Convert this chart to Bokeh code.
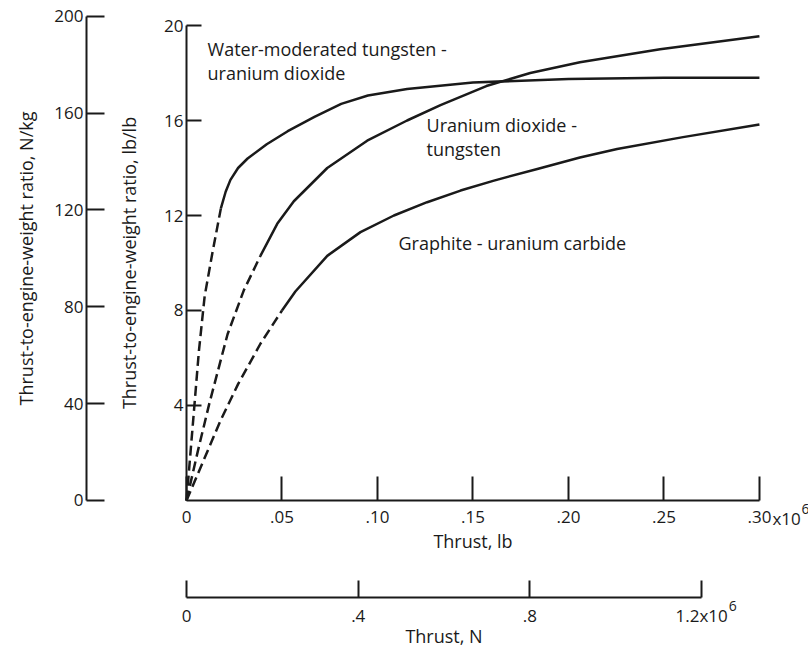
from bokeh.plotting import figure
from bokeh.models import Range1d, LinearAxis, FixedTicker, Grid
from bokeh.core.properties import value
from bokeh.embed import file_html
from bokeh.resources import INLINE

# ---------------- data (thrust in 10^6 lb, ratio in lb/lb) ----------------
# Water-moderated tungsten - uranium dioxide
wm_dash_thrust = [0.0, 0.003, 0.0065, 0.0095, 0.0135, 0.018]
wm_dash_ratio = [0.0, 2.9, 6.3, 8.6, 10.4, 12.3]
wm_thrust = [0.018, 0.0205, 0.023, 0.027, 0.032, 0.042, 0.053, 0.067, 0.081, 0.095, 0.1155, 0.15, 0.20, 0.25, 0.30]
wm_ratio = [12.3, 13.0, 13.5, 14.0, 14.4, 15.0, 15.55, 16.15, 16.7, 17.05, 17.33, 17.6, 17.75, 17.8, 17.8]

# Uranium dioxide - tungsten
uw_dash_thrust = [0.0, 0.006, 0.012, 0.0215, 0.030, 0.0387]
uw_dash_ratio = [0.0, 2.1, 4.1, 7.0, 8.85, 10.3]
uw_thrust = [0.0387, 0.0475, 0.0562, 0.0737, 0.0946, 0.1155, 0.133, 0.157, 0.18, 0.206, 0.248, 0.30]
uw_ratio = [10.3, 11.65, 12.6, 14.0, 15.15, 16.0, 16.65, 17.45, 18.0, 18.45, 19.0, 19.55]

# Graphite - uranium carbide
gc_dash_thrust = [0.0, 0.009, 0.018, 0.027, 0.0387, 0.050]
gc_dash_ratio = [0.0, 1.7, 3.4, 4.9, 6.6, 8.0]
gc_thrust = [0.050, 0.057, 0.0737, 0.0911, 0.1086, 0.126, 0.1435, 0.161, 0.1837, 0.206, 0.2255, 0.26, 0.30]
gc_ratio = [8.0, 8.8, 10.3, 11.3, 12.0, 12.56, 13.05, 13.47, 13.96, 14.44, 14.8, 15.3, 15.83]

# curve annotations
label_texts = ["Water-moderated tungsten -", "uranium dioxide",
               "Uranium dioxide -", "tungsten",
               "Graphite - uranium carbide"]
label_thrust = [0.011, 0.011, 0.1257, 0.1257, 0.111]
label_ratio = [19.03, 18.02, 15.79, 14.82, 10.86]

# axis ticks
lb_ratio_ticks = [4, 8, 12, 16, 20]
nkg_ticks = [0, 40, 80, 120, 160, 200]
lb_thrust_ticks = [0.0, 0.05, 0.10, 0.15, 0.20, 0.25, 0.30]
lb_thrust_labels = ["0", ".05", ".10", ".15", ".20", ".25", ".30"]
n_thrust_ticks = [0.0, 0.4, 0.8, 1.2]
n_thrust_labels = ["0", ".4", ".8", "1.2x10"]

G0 = 9.80665      # (N/kg) per (lb/lb)
LBF_N = 4.44822   # N per lb

# ---------------- figure ----------------
X_LO, X_HI = -0.0974, 0.3257
Y_LO, Y_HI = -6.232, 21.053
INK = "#1a1a1a"
FONT = "Open Sans"

p = figure(width=808, height=648,
           x_range=Range1d(X_LO, X_HI), y_range=Range1d(Y_LO, Y_HI),
           x_axis_location=None, y_axis_location=None,
           toolbar_location=None, output_backend="svg",
           min_border=0, outline_line_color=None)
p.extra_y_ranges = {"nkg": Range1d(Y_LO * G0, Y_HI * G0)}
p.extra_x_ranges = {"newton": Range1d(X_LO * LBF_N, X_HI * LBF_N)}
p.background_fill_color = "white"
p.border_fill_color = "white"
for g in p.select(type=Grid):
    g.visible = False


def style_axis(ax, tick_in, label_standoff, axis_label_standoff):
    ax.axis_line_color = INK
    ax.axis_line_width = 2
    ax.major_tick_line_color = INK
    ax.major_tick_line_width = 2
    ax.major_tick_in = tick_in
    ax.major_tick_out = 0
    ax.minor_tick_line_color = None
    ax.major_label_text_font = FONT
    ax.major_label_text_font_size = "17px"
    ax.major_label_text_color = INK
    ax.major_label_standoff = label_standoff
    ax.axis_label_text_font = FONT
    ax.axis_label_text_font_size = "18px"
    ax.axis_label_text_font_style = "normal"
    ax.axis_label_text_color = INK
    ax.axis_label_standoff = axis_label_standoff


# left axis, lb/lb
ax_ratio = LinearAxis(fixed_location=0.0, bounds=(0, 20),
                      ticker=FixedTicker(ticks=lb_ratio_ticks),
                      axis_label="Thrust-to-engine-weight ratio, lb/lb")
style_axis(ax_ratio, 15, 3, 20)
p.add_layout(ax_ratio, "left")

# outer left axis, N/kg
ax_nkg = LinearAxis(y_range_name="nkg", fixed_location=-0.0524, bounds=(0, 200),
                    ticker=FixedTicker(ticks=nkg_ticks),
                    axis_label="Thrust-to-engine-weight ratio, N/kg")
style_axis(ax_nkg, 18, 3, 13)
p.add_layout(ax_nkg, "left")

# bottom axis, lb
ax_lb = LinearAxis(fixed_location=0.0, bounds=(0, 0.30),
                   ticker=FixedTicker(ticks=lb_thrust_ticks),
                   major_label_overrides=dict(zip(lb_thrust_ticks, lb_thrust_labels)),
                   axis_label="Thrust, lb")
style_axis(ax_lb, 24, 11, 2)
p.add_layout(ax_lb, "below")

# lower axis, N
ax_n = LinearAxis(x_range_name="newton", fixed_location=-4.084, bounds=(0, 1.2),
                  ticker=FixedTicker(ticks=n_thrust_ticks),
                  major_label_overrides=dict(zip(n_thrust_ticks, n_thrust_labels)),
                  axis_label="Thrust, N")
style_axis(ax_n, 17, 7, -7)
p.add_layout(ax_n, "below")

# exponent parts of the tick labels
p.text(x=[lb_thrust_ticks[-1]], y=[0], text=["x10"], x_offset=13, y_offset=18,
       text_font=value(FONT), text_font_size="17px", text_color=INK,
       text_align="left", text_baseline="middle")
p.text(x=[lb_thrust_ticks[-1]], y=[0], text=["6"], x_offset=42, y_offset=9,
       text_font=value(FONT), text_font_size="14px", text_color=INK,
       text_align="left", text_baseline="middle")
p.text(x=[n_thrust_ticks[-1]], y=[-4.084], text=["6"], x_offset=27, y_offset=9,
       x_range_name="newton",
       text_font=value(FONT), text_font_size="14px", text_color=INK,
       text_align="left", text_baseline="middle")

# curves
for dx, dy, sx, sy in [(wm_dash_thrust, wm_dash_ratio, wm_thrust, wm_ratio),
                       (uw_dash_thrust, uw_dash_ratio, uw_thrust, uw_ratio),
                       (gc_dash_thrust, gc_dash_ratio, gc_thrust, gc_ratio)]:
    p.line(dx, dy, line_color=INK, line_width=2.5, line_dash="10 5")
    p.line(sx, sy, line_color=INK, line_width=2.5)

p.text(x=label_thrust, y=label_ratio, text=label_texts,
       text_font=value(FONT), text_font_size="18px", text_color=INK,
       text_align="left", text_baseline="middle")

open("out.html", "w").write(file_html(p, INLINE))
